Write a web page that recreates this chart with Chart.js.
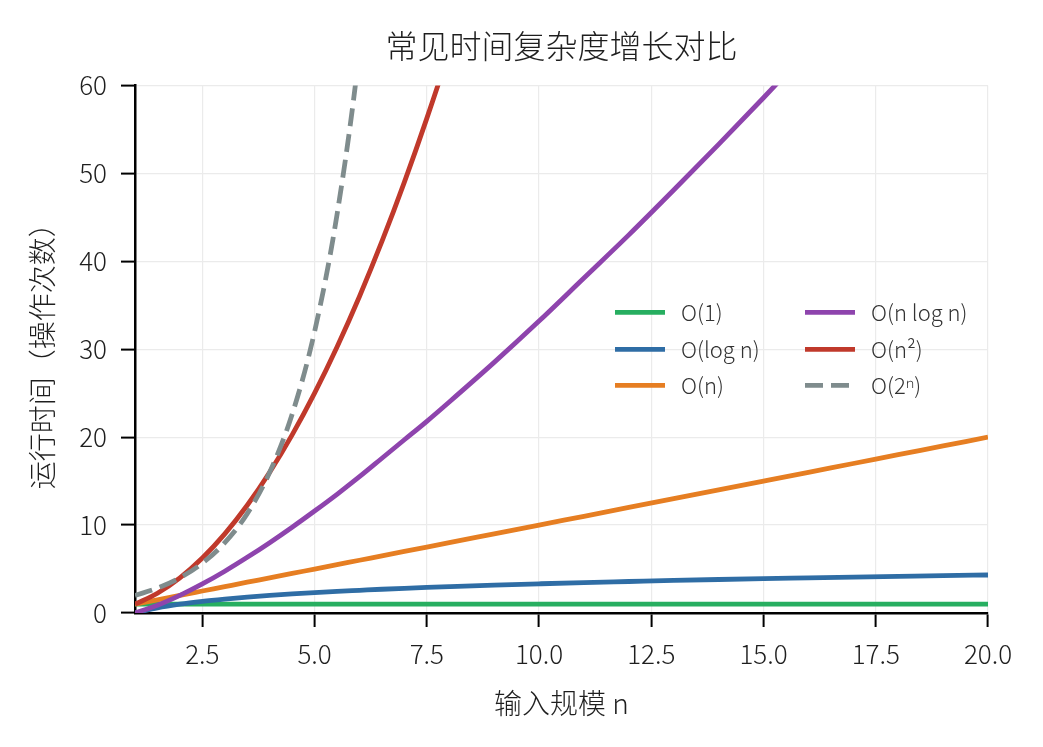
<!DOCTYPE html>
<html>
<head>
<meta charset="utf-8">
<script src="https://cdn.jsdelivr.net/npm/chart.js@4.4.1/dist/chart.umd.min.js"></script>
<style>
  html, body { margin: 0; padding: 0; background: #fff; }
  #wrap { width: 1043px; height: 747px; }
</style>
</head>
<body>
<div id="wrap"><canvas id="complexityChart"></canvas></div>
<script>
// 输入规模 n
var nValues = [1, 1.5, 2, 2.5, 3, 3.5, 4, 4.5, 5, 5.5, 6, 6.5, 7, 7.5, 8, 9, 10, 11, 12, 13, 14, 15, 16, 17, 18, 19, 20];

var constValues = [1, 1, 1, 1, 1, 1, 1, 1, 1, 1, 1, 1, 1, 1, 1, 1, 1, 1, 1, 1, 1, 1, 1, 1, 1, 1, 1];
var logValues = [0, 0.58, 1, 1.32, 1.58, 1.81, 2, 2.17, 2.32, 2.46, 2.58, 2.7, 2.81, 2.91, 3, 3.17, 3.32, 3.46, 3.58, 3.7, 3.81, 3.91, 4, 4.09, 4.17, 4.25, 4.32];
var linearValues = [1, 1.5, 2, 2.5, 3, 3.5, 4, 4.5, 5, 5.5, 6, 6.5, 7, 7.5, 8, 9, 10, 11, 12, 13, 14, 15, 16, 17, 18, 19, 20];
var nlognValues = [0, 0.88, 2, 3.3, 4.75, 6.33, 8, 9.76, 11.6, 13.5, 15.5, 17.6, 19.7, 21.8, 24, 28.5, 33.2, 38.1, 43, 48.1, 53.3, 58.6, 64, 69.5, 75.1, 80.7, 86.4];
var squareValues = [1, 2.25, 4, 6.25, 9, 12.25, 16, 20.25, 25, 30.25, 36, 42.25, 49, 56.25, 64, 81, 100, 121, 144, 169, 196, 225, 256, 289, 324, 361, 400];
var expValues = [2, 2.83, 4, 5.66, 8, 11.3, 16, 22.6, 32, 45.3, 64, 90.5, 128, 181, null, null, null, null, null, null, null, null, null, null, null, null, null];

var seriesLabels = ['O(1)', 'O(log n)', 'O(n)', 'O(n log n)', 'O(n²)', 'O(2ⁿ)'];
var xTickValues = [2.5, 5, 7.5, 10, 12.5, 15, 17.5, 20];
var yTickValues = [0, 10, 20, 30, 40, 50, 60];

var FONT = "'Noto Sans CJK SC', 'Noto Sans', sans-serif";
var TEXT = '#1e1e1e';

function toPoints(values) {
  return nValues.map(function (n, i) { return { x: n, y: values[i] }; });
}

function makeSet(label, values, color, order, dash) {
  return {
    label: label,
    data: toPoints(values),
    borderColor: color,
    backgroundColor: color,
    borderWidth: 4.8,
    borderDash: dash || [],
    pointRadius: 0,
    fill: false,
    cubicInterpolationMode: 'monotone',
    order: order
  };
}

// legend drawn inside the plot, two columns like the original
var insideLegend = {
  id: 'insideLegend',
  afterDraw: function (chart) {
    var ctx = chart.ctx;
    var area = chart.chartArea;
    var cols = [area.left + 480, area.left + 670];
    var rows = [area.top + 227, area.top + 264, area.top + 300];
    ctx.save();
    chart.data.datasets.forEach(function (ds, i) {
      var x = cols[Math.floor(i / 3)];
      var y = rows[i % 3];
      ctx.strokeStyle = ds.borderColor;
      ctx.lineWidth = 4.8;
      ctx.setLineDash(ds.borderDash || []);
      ctx.beginPath();
      ctx.moveTo(x, y);
      ctx.lineTo(x + 50, y);
      ctx.stroke();
      ctx.setLineDash([]);
      ctx.fillStyle = '#333';
      ctx.font = '300 22px ' + FONT;
      ctx.textBaseline = 'middle';
      ctx.textAlign = 'left';
      ctx.fillText(ds.label, x + 66, y);
    });
    ctx.restore();
  }
};

var chart = new Chart(document.getElementById('complexityChart'), {
  type: 'line',
  data: {
    datasets: [
      makeSet(seriesLabels[0], constValues, '#27ae60', 6),
      makeSet(seriesLabels[1], logValues, '#2f6da5', 5),
      makeSet(seriesLabels[2], linearValues, '#e67e22', 4),
      makeSet(seriesLabels[3], nlognValues, '#8e44ad', 3),
      makeSet(seriesLabels[4], squareValues, '#c0392b', 2),
      makeSet(seriesLabels[5], expValues, '#7f8c8d', 1, [18, 8])
    ]
  },
  options: {
    responsive: true,
    maintainAspectRatio: false,
    animation: false,
    layout: {
      padding: { left: 0, right: 55, top: 0, bottom: 0 }
    },
    scales: {
      x: {
        type: 'linear',
        min: 1,
        max: 20,
        afterBuildTicks: function (scale) {
          scale.ticks = xTickValues.map(function (v) { return { value: v }; });
        },
        afterFit: function (scale) { scale.height = 134; },
        ticks: {
          color: TEXT,
          padding: 12,
          font: { family: FONT, size: 26, weight: '300' },
          callback: function (v) { return Number(v).toFixed(1); }
        },
        grid: {
          color: '#ebebeb',
          lineWidth: 1.2,
          tickLength: 14,
          tickColor: '#000',
          tickWidth: 2
        },
        border: { display: true, color: '#000', width: 2.5 },
        title: {
          display: true,
          text: '输入规模 n',
          color: TEXT,
          font: { family: FONT, size: 28, weight: '300' },
          padding: { top: 0, bottom: 27 }
        }
      },
      y: {
        min: 0,
        max: 60,
        afterBuildTicks: function (scale) {
          scale.ticks = yTickValues.map(function (v) { return { value: v }; });
        },
        afterFit: function (scale) { scale.width = 135; },
        ticks: {
          color: TEXT,
          padding: 14,
          font: { family: FONT, size: 26, weight: '300' }
        },
        grid: {
          color: '#ebebeb',
          lineWidth: 1.2,
          tickLength: 14,
          tickColor: '#000',
          tickWidth: 2
        },
        border: { display: true, color: '#000', width: 2.5 },
        title: {
          display: true,
          text: '运行时间（操作次数）',
          color: TEXT,
          font: { family: FONT, size: 28, weight: '300' },
          padding: { top: 26, bottom: 0 }
        }
      }
    },
    plugins: {
      legend: { display: false },
      tooltip: { enabled: false },
      title: {
        display: true,
        fullSize: false,
        text: '常见时间复杂度增长对比',
        color: TEXT,
        font: { family: FONT, size: 32, weight: '300' },
        padding: { top: 27, bottom: 20 }
      }
    }
  },
  plugins: [insideLegend]
});
</script>
</body>
</html>
